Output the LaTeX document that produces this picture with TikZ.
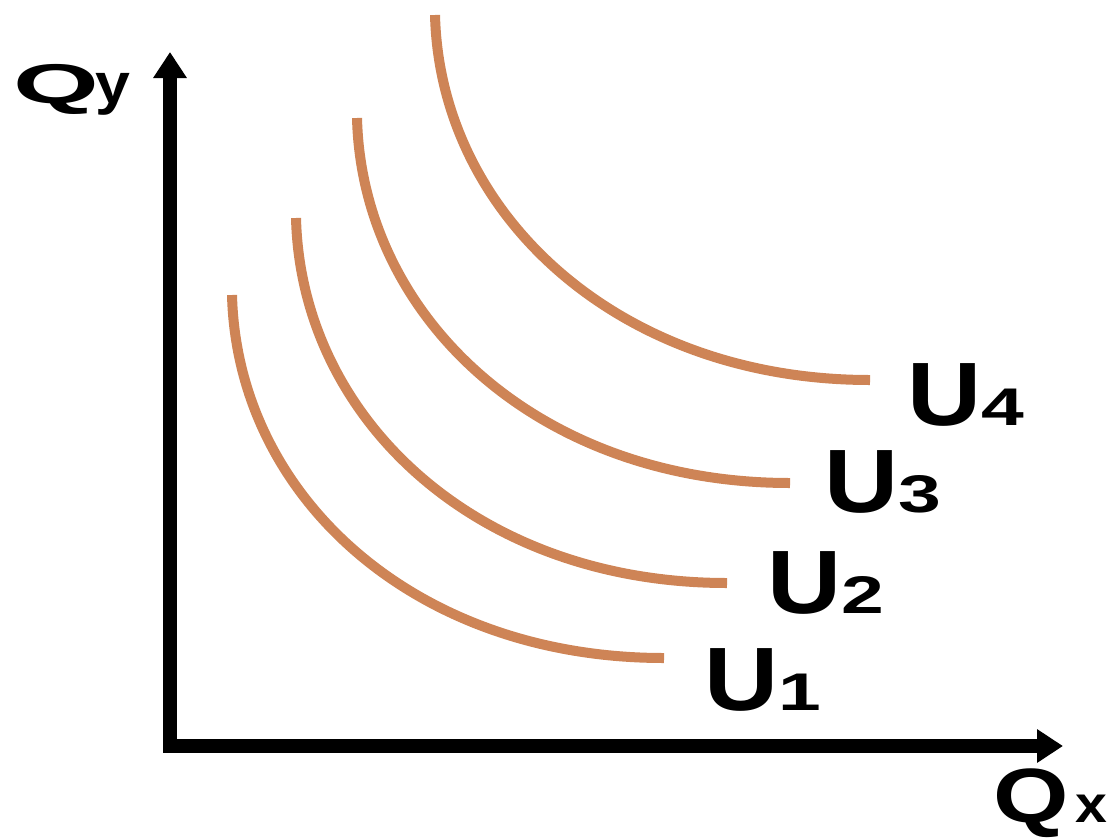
\documentclass[tikz,border=0pt]{standalone}
\usepackage{fontspec}
\usepackage{graphicx}
\setmainfont{Liberation Sans}
\usetikzlibrary{arrows.meta,calc}
\definecolor{curvecol}{RGB}{206,132,86}
\newcommand{\ulabel}[1]{\scalebox{1.14}[1]{\fontsize{90}{90}\selectfont\bfseries U}\scalebox{1.45}[1]{\fontsize{53}{53}\selectfont\bfseries #1}}
\begin{document}
\begin{tikzpicture}[x=1pt,y=-1pt,
  axis/.style={line width=14pt,line join=miter,black,
    {Triangle[width=32pt,length=26pt]}-{Triangle[width=32pt,length=26pt]}},
  icurve/.style={line width=10pt,curvecol,line cap=butt},
  lbl/.style={anchor=base west,inner sep=0pt,outer sep=0pt,text=black}]
\useasboundingbox (0,0) rectangle (1113,839);
% axes
\coordinate (ytip) at (170,52);
\coordinate (xtip) at (1063,746);
\draw[axis] (ytip) |- (xtip);
% indifference curves
\coordinate (S1) at (232,295); \coordinate (E1) at (664,658);
\coordinate (S2) at (296,218); \coordinate (E2) at (727,583);
\coordinate (S3) at (357,118); \coordinate (E3) at (790,483);
\coordinate (S4) at (435,15);  \coordinate (E4) at (870,380);
\foreach \i in {1,2,3,4}{
  \draw[icurve] (S\i) .. controls ($(S\i)+(5,200)$) and ($(E\i)+(-251,0)$) .. (E\i);
}
% labels
\node[lbl] (u1) at (704.5,710) {\ulabel{1}};
\node[lbl] (u2) at (767.5,613) {\ulabel{2}};
\node[lbl] (u3) at (824.5,512) {\ulabel{3}};
\node[lbl] (u4) at (907.5,425) {\ulabel{4}};
\node[lbl] (qy) at (13,103) {\scalebox{1.97}[1]{\fontsize{56}{56}\selectfont\bfseries Q}\hspace{-3pt}\scalebox{1.1}[1]{\fontsize{57}{57}\selectfont\bfseries y}};
\node[lbl] (qx) at (993,822) {\scalebox{1.26}[1]{\fontsize{77}{77}\selectfont\bfseries Q}\hspace{7pt}\scalebox{1.1}[1]{\fontsize{52}{52}\selectfont\bfseries x}};
\end{tikzpicture}
\end{document}
